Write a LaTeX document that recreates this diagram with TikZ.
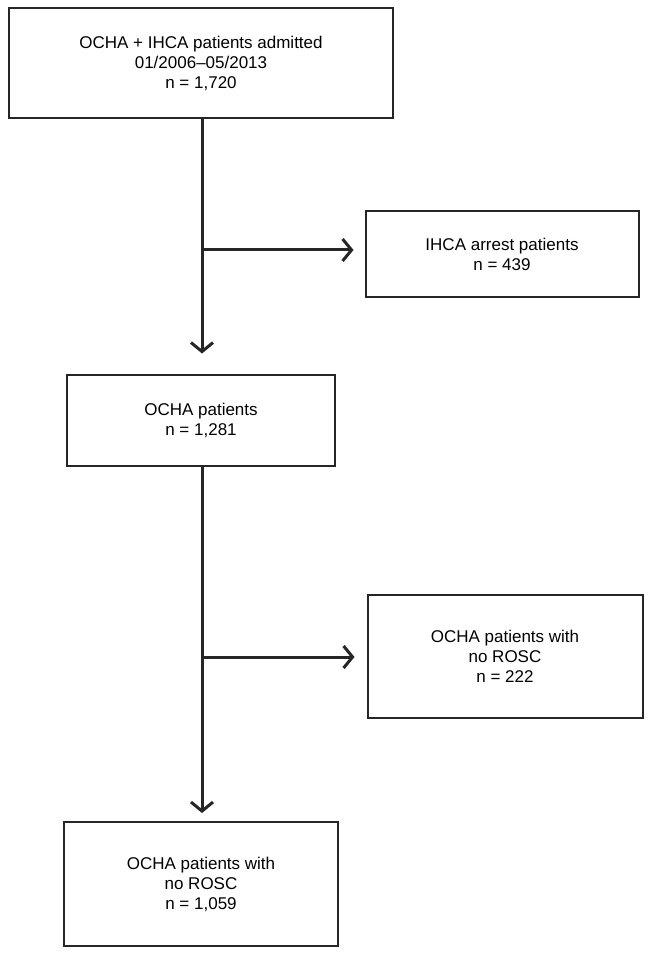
\documentclass[tikz,border=0pt]{standalone}
\usepackage{fontspec}
\setmainfont{Liberation Sans}
\usetikzlibrary{arrows.meta}

\begin{document}
\begin{tikzpicture}[
  x=1pt, y=-1pt,
  font=\fontsize{17}{20}\selectfont,
  >={Straight Barb[length=9pt, width=22pt]},
  box/.style={draw=black!85, line width=2pt, align=center, inner sep=0pt},
  arr/.style={->, line width=3pt, draw=black!85},
]
\useasboundingbox (0,0) rectangle (655,957);
\node[box, minimum width=384pt, minimum height=110pt] (admit) at (201,63)
  {OCHA + IHCA patients admitted\\01/2006--05/2013\\n = 1,720};
\node[box, minimum width=273pt, minimum height=85pt] (ihca) at (502,254)
  {IHCA arrest patients\\n = 439};
\node[box, minimum width=268pt, minimum height=91pt] (ocha) at (201,420)
  {OCHA patients\\n = 1,281};
\node[box, minimum width=275pt, minimum height=123pt] (norosc) at (505,656)
  {OCHA patients with\\no ROSC\\n = 222};
\node[box, minimum width=274pt, minimum height=124pt] (rosc) at (201,884)
  {OCHA patients with\\no ROSC\\n = 1,059};
\coordinate (split1) at (202,250);
\coordinate (split2) at (202,657);
\draw[arr, shorten >=20pt] (admit.south -| split1) -- (ocha.north -| split1);
\draw[arr, shorten >=11pt] (split1) -- (split1 -| ihca.west);
\draw[arr, shorten >=8pt] (ocha.south -| split2) -- (rosc.north -| split2);
\draw[arr, shorten >=12pt] (split2) -- (split2 -| norosc.west);
\end{tikzpicture}
\end{document}
